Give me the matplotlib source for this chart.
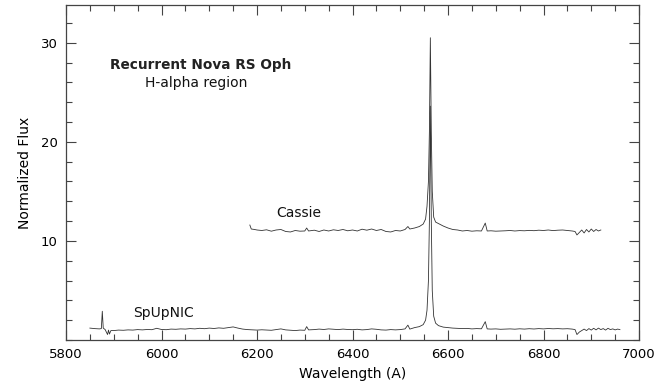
import numpy as np
import matplotlib
matplotlib.use('Agg')
import matplotlib.pyplot as plt
from matplotlib.ticker import MultipleLocator

#=============================DATA========================================
# SpUpNIC spectrum (wavelength in A, normalized flux)
spupnic_wl = [5850, 5860, 5870, 5874, 5876, 5878, 5882, 5887, 5889, 5891, 5894,
              5900, 5910, 5920, 5930, 5940, 5950, 5960, 5970, 5980, 5990,
              6000, 6010, 6020, 6030, 6040, 6050, 6060, 6070, 6080, 6090,
              6100, 6110, 6120, 6130, 6140, 6150, 6160, 6170, 6180, 6190,
              6200, 6210, 6220, 6230, 6240, 6250, 6260, 6270, 6280, 6290,
              6300, 6304, 6308, 6320, 6330, 6340, 6350, 6360, 6370, 6380,
              6390, 6400, 6410, 6420, 6430, 6440, 6450, 6460, 6470, 6480,
              6490, 6500, 6510, 6516, 6520, 6530, 6540, 6548, 6553, 6556,
              6559, 6561, 6563, 6565, 6567, 6570, 6574, 6580, 6590, 6600,
              6610, 6620, 6630, 6640, 6650, 6660, 6670, 6678, 6682, 6690,
              6700, 6710, 6720, 6730, 6740, 6750, 6760, 6770, 6780, 6790,
              6800, 6810, 6820, 6830, 6840, 6850, 6860, 6866, 6870, 6875,
              6880, 6885, 6890, 6895, 6900, 6905, 6910, 6915, 6920, 6925,
              6930, 6935, 6940, 6945, 6950, 6955, 6960]
spupnic_flux = [1.20, 1.15, 1.12, 1.15, 2.90, 1.20, 1.05, 0.55, 1.00, 0.60, 0.95,
                0.95, 1.00, 0.98, 1.02, 1.00, 1.05, 1.02, 1.06, 1.04, 1.18,
                1.06, 1.04, 1.10, 1.08, 1.12, 1.10, 1.15, 1.12, 1.18, 1.14,
                1.20, 1.16, 1.22, 1.18, 1.25, 1.32, 1.20, 1.10, 1.05, 1.02,
                1.00, 1.03, 1.00, 0.98, 1.05, 1.12, 1.02, 0.98, 0.95, 1.00,
                0.98, 1.35, 1.02, 1.05, 1.10, 1.06, 1.12, 1.08, 1.05, 1.10,
                1.06, 1.04, 1.08, 1.02, 1.05, 1.12, 1.08, 1.02, 1.00, 1.05,
                1.02, 1.05, 1.12, 1.50, 1.10, 1.25, 1.35, 1.55, 2.00, 3.00,
                6.00, 12.0, 23.6, 12.0, 5.00, 2.40, 1.70, 1.45, 1.30, 1.25,
                1.20, 1.18, 1.15, 1.17, 1.12, 1.15, 1.13, 1.85, 1.12, 1.10,
                1.12, 1.08, 1.10, 1.12, 1.09, 1.13, 1.10, 1.14, 1.11, 1.15,
                1.12, 1.16, 1.13, 1.15, 1.12, 1.14, 1.10, 1.05, 0.55, 0.80,
                0.95, 1.10, 0.95, 1.15, 1.00, 1.18, 1.02, 1.20, 1.05, 1.15,
                1.00, 1.18, 1.05, 1.12, 1.02, 1.10, 1.05]

# Cassie spectrum (offset by +10)
cassie_wl = [6185, 6188, 6195, 6200, 6210, 6220, 6230, 6240, 6250, 6260,
             6270, 6280, 6290, 6300, 6304, 6308, 6320, 6330, 6340, 6350,
             6360, 6370, 6380, 6390, 6400, 6410, 6420, 6430, 6440, 6450,
             6460, 6470, 6480, 6490, 6500, 6510, 6516, 6520, 6530, 6540,
             6548, 6553, 6556, 6559, 6561, 6563, 6565, 6567, 6570, 6574,
             6580, 6590, 6600, 6610, 6620, 6630, 6640, 6650, 6660, 6670,
             6678, 6682, 6690, 6700, 6710, 6720, 6730, 6740, 6750, 6760,
             6770, 6780, 6790, 6800, 6810, 6820, 6830, 6840, 6850, 6860,
             6866, 6870, 6875, 6880, 6885, 6890, 6895, 6900, 6905, 6910,
             6915, 6920]
cassie_flux = [11.6, 11.2, 11.15, 11.1, 11.05, 11.12, 10.98, 11.1, 11.15, 10.95,
               10.9, 11.05, 10.98, 11.0, 11.3, 11.0, 11.08, 10.95, 11.1, 11.0,
               11.12, 11.05, 11.15, 11.02, 11.1, 11.0, 11.18, 11.08, 11.2, 11.05,
               11.15, 10.95, 10.9, 11.05, 11.0, 11.15, 11.45, 11.2, 11.3, 11.45,
               11.7, 12.2, 13.5, 16.0, 21.0, 30.5, 21.0, 15.0, 12.4, 11.9,
               11.75, 11.5, 11.3, 11.15, 11.1, 11.0, 11.05, 10.98, 11.02, 11.0,
               11.8, 11.0, 11.02, 10.98, 11.0, 11.02, 11.05, 11.0, 11.04, 11.02,
               11.06, 11.03, 11.08, 11.05, 11.1, 11.04, 11.08, 11.1, 11.05, 11.0,
               10.95, 10.6, 10.85, 11.1, 10.8, 11.15, 10.9, 11.2, 10.95, 11.15,
               11.0, 11.1]

# labels
title_text = 'Recurrent Nova RS Oph'
subtitle_text = 'H-alpha region'
cassie_label = 'Cassie'
spupnic_label = 'SpUpNIC'

#=============================PLOT========================================
fig = plt.figure(figsize=(6.62, 3.85), dpi=100)
ax = fig.add_axes([0.0997, 0.1169, 0.8656, 0.870])

line_color = '#333333'
ax.plot(spupnic_wl, spupnic_flux, color=line_color, lw=0.6)
ax.plot(cassie_wl, cassie_flux, color=line_color, lw=0.6)

ax.set_xlim(5800, 7000)
ax.set_ylim(0, 33.8)

# ticks on all sides pointing in
ax.xaxis.set_major_locator(MultipleLocator(200))
ax.xaxis.set_minor_locator(MultipleLocator(50))
ax.set_yticks([10, 20, 30])
ax.yaxis.set_minor_locator(MultipleLocator(2))
ax.tick_params(which='both', direction='in', top=True, right=True,
               color='#444444', labelsize=9.5, width=0.8)
ax.tick_params(which='major', length=7, pad=6)
ax.tick_params(which='minor', length=4)
for s in ax.spines.values():
    s.set_color('#444444')
    s.set_linewidth(0.9)

ax.set_xlabel('Wavelength (A)', fontsize=10, labelpad=4)
ax.set_ylabel('Normalized Flux', fontsize=10, labelpad=6)

# annotations
ax.text(5892, 27.7, title_text, fontsize=9.8, fontweight='bold',
        va='center', ha='left', color='#222222')
ax.text(5965, 25.9, subtitle_text, fontsize=10, va='center', ha='left',
        color='#111111')
ax.text(6288, 12.8, cassie_label, fontsize=10, va='center', ha='center',
        color='#111111')
ax.text(6005, 2.7, spupnic_label, fontsize=10, va='center', ha='center',
        color='#111111')

fig.savefig('out.png', dpi=100)
